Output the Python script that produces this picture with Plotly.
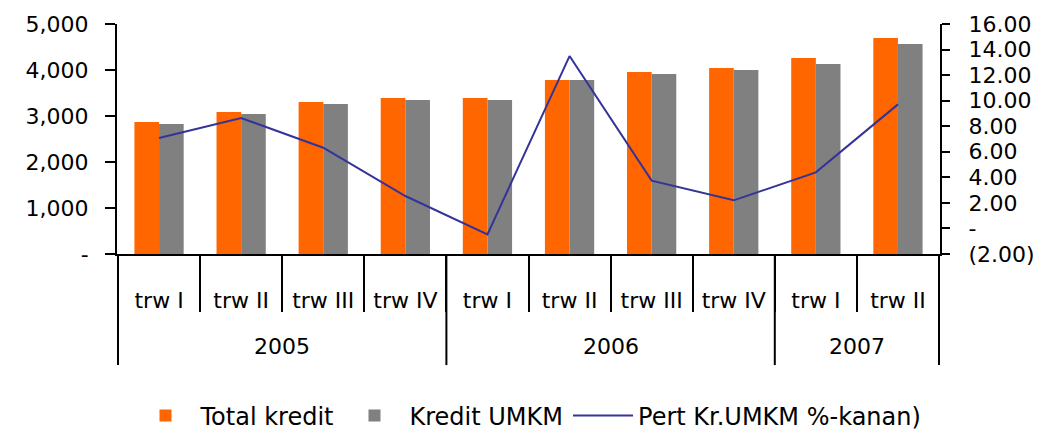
import plotly.graph_objects as go

years = ["2005"] * 4 + ["2006"] * 4 + ["2007"] * 2
quarters = ["trw I", "trw II", "trw III", "trw IV",
            "trw I", "trw II", "trw III", "trw IV",
            "trw I", "trw II"]
total_kredit = [2870, 3087, 3304, 3391, 3391, 3783, 3957, 4043, 4261, 4696]
kredit_umkm = [2826, 3043, 3261, 3348, 3348, 3783, 3913, 4000, 4130, 4565]
pert_umkm = [7.08, 8.64, 6.32, 2.54, -0.46, 13.49, 3.74, 2.2, 4.39, 9.71]

left_vals = [0, 1000, 2000, 3000, 4000, 5000]
left_text = ["-", "1,000", "2,000", "3,000", "4,000", "5,000"]
right_vals = [-2, 0, 2, 4, 6, 8, 10, 12, 14, 16]
right_text = ["(2.00)", "-", "2.00", "4.00", "6.00", "8.00", "10.00", "12.00", "14.00", "16.00"]

# unique category ids, displayed as the quarter names
cat_ids = [f"{y} {q}" for y, q in zip(years, quarters)]
font_main = "DejaVu Sans, Liberation Sans, Arial, sans-serif"

fig = go.Figure()
fig.add_trace(go.Bar(x=cat_ids, y=total_kredit, name="Total kredit", marker_color="#FF6600",
                     marker_line_width=0))
fig.add_trace(go.Bar(x=cat_ids, y=kredit_umkm, name="Kredit UMKM", marker_color="#808080",
                     marker_line_width=0))
fig.add_trace(go.Scatter(x=cat_ids, y=pert_umkm, name="Pert Kr.UMKM %-kanan)", mode="lines",
                         line=dict(color="#333399", width=2), yaxis="y2"))

# year group labels and dividers, derived from the years list
groups = []
for i, y in enumerate(years):
    if not groups or groups[-1][0] != y:
        groups.append([y, i, i])
    else:
        groups[-1][2] = i

bounds = [g[1] - 0.5 for g in groups] + [groups[-1][2] + 0.5]
for b in bounds:
    fig.add_shape(type="line", xref="x", yref="paper", x0=b, x1=b, y0=0, y1=-0.483,
                  line=dict(color="black", width=2))
for y, i0, i1 in groups:
    fig.add_annotation(x=(i0 + i1) / 2, xref="x", y=-0.40, yref="paper", text=y,
                       showarrow=False, yanchor="middle", xanchor="center",
                       font=dict(family=font_main, size=22, color="black"))

fig.update_layout(
    width=1041, height=424,
    margin=dict(l=109, r=109, t=16, b=178, autoexpand=False),
    paper_bgcolor="white", plot_bgcolor="white",
    barmode="group", bargap=0.4, bargroupgap=0,
    font=dict(family=font_main, size=22, color="black"),
    showlegend=True,
    legend=dict(orientation="h", x=0.5, xanchor="center", y=-0.704, yanchor="middle",
                font=dict(family=font_main, size=24),
                itemwidth=60, tracegroupgap=0, bgcolor="rgba(0,0,0,0)"),
    xaxis=dict(type="category", tickvals=cat_ids, ticktext=quarters,
               showline=True, linecolor="black", linewidth=2,
               ticks="outside", tickson="boundaries", ticklen=56, tickwidth=2,
               tickcolor="black", showgrid=False, tickfont=dict(size=22),
               automargin=False, ticklabelstandoff=26),
    yaxis=dict(range=[0, 5000], tickvals=left_vals, ticktext=left_text,
               showline=True, linecolor="black", linewidth=2, ticks="outside",
               ticklen=10, tickwidth=2, tickcolor="black", showgrid=False,
               zeroline=False, ticklabelstandoff=12, tickfont=dict(size=22),
               automargin=False),
    yaxis2=dict(range=[-2, 16], tickvals=right_vals, ticktext=right_text,
                overlaying="y", side="right", showline=True, linecolor="black",
                linewidth=2, ticks="outside", ticklen=8, tickwidth=2, tickcolor="black",
                showgrid=False, zeroline=False, ticklabelstandoff=14, tickfont=dict(size=22),
                automargin=False),
)

fig.write_html("out.html")
